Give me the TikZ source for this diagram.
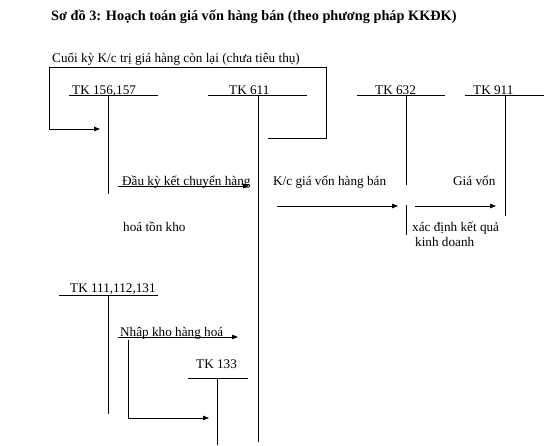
\documentclass[tikz,border=0pt]{standalone}
\usepackage{fontspec}
\setmainfont{Liberation Serif}
\usetikzlibrary{arrows.meta}
\begin{document}
\begin{tikzpicture}[x=1pt,y=-1pt,
  lbl/.style={anchor=base west,inner sep=0pt,font=\fontsize{13.2}{15}\selectfont},
  ttl/.style={anchor=base west,inner sep=0pt,font=\fontsize{14.3}{16}\bfseries\selectfont},
  acc/.style={line width=0.75pt},
  arr/.style={line width=0.75pt,-{Triangle[length=6pt,width=4.5pt]}}]
\useasboundingbox[fill=white] (0,0) rectangle (559,445);
% title
\node[ttl] (title) at (51,20) {Sơ đồ 3: Hoạch toán giá vốn hàng bán (theo phương pháp KKĐK)};
% labels
\node[lbl] (cuoi) at (52,62) {Cuối kỳ K/c trị giá hàng còn lại (chưa tiêu thụ)};
\node[lbl] (t156) at (72,94) {TK 156,157};
\node[lbl] (t611) at (229,94) {TK 611};
\node[lbl] (t632) at (375,94) {TK 632};
\node[lbl] (t911) at (473,94) {TK 911};
\node[lbl] (dauky) at (122,185) {Đầu kỳ kết chuyển hàng};
\node[lbl] (hoa) at (123,231) {hoá tồn kho};
\node[lbl] (kc) at (273,185) {K/c giá vốn hàng bán};
\node[lbl] (giavon) at (453,185) {Giá vốn};
\node[lbl] (xd) at (412,231) {xác định kết quả};
\node[lbl] (kd) at (415,246) {kinh doanh};
\node[lbl] (t111) at (70,292) {TK 111,112,131};
\node[lbl] (nhap) at (120,336) {Nhập kho hàng hoá};
\node[lbl] (t133) at (196,368) {TK 133};
% T-account coordinates
\coordinate (a156l) at (69,95);  \coordinate (a156r) at (158,95);
\coordinate (a156t) at (108,95); \coordinate (a156b) at (108,194);
\coordinate (a611l) at (208,95); \coordinate (a611r) at (307,95);
\coordinate (a611t) at (258,95); \coordinate (a611b) at (258,442);
\coordinate (a632l) at (357,95); \coordinate (a632r) at (445,95);
\coordinate (a632t) at (406,95); \coordinate (a632b) at (406,185);
\coordinate (a632c) at (406,205); \coordinate (a632d) at (406,235);
\coordinate (a911l) at (465,95); \coordinate (a911r) at (544,95);
\coordinate (a911t) at (505,95); \coordinate (a911b) at (505,216);
\coordinate (a111l) at (59,295); \coordinate (a111r) at (158,295);
\coordinate (a111t) at (108,295); \coordinate (a111b) at (108,414);
\coordinate (a133l) at (188,378); \coordinate (a133r) at (248,378);
\coordinate (a133t) at (217,378); \coordinate (a133b) at (217,445);
\draw[acc] (a156l) -- (a156r) (a156t) -- (a156b);
\draw[acc] (a611l) -- (a611r) (a611t) -- (a611b);
\draw[acc] (a632l) -- (a632r) (a632t) -- (a632b) (a632c) -- (a632d);
\draw[acc] (a911l) -- (a911r) (a911t) -- (a911b);
\draw[acc] (a111l) -- (a111r) (a111t) -- (a111b);
\draw[acc] (a133l) -- (a133r) (a133t) -- (a133b);
% bracket: end of period transfer
\coordinate (b1) at (268,138); \coordinate (b2) at (326,138);
\coordinate (b3) at (326,67);  \coordinate (b4) at (49,67);
\coordinate (b5) at (49,129);  \coordinate (b6) at (100,129);
\draw[acc] (b1) -- (b2) -- (b3) -- (b4) -- (b5);
\draw[arr] (b5) -- (b6);
% arrows
\coordinate (d1) at (118,186); \coordinate (d2) at (249,186);
\draw[arr] (d1) -- (d2);
\coordinate (k1) at (277,206); \coordinate (k2) at (398,206);
\draw[arr] (k1) -- (k2);
\coordinate (g1) at (415,206); \coordinate (g2) at (496,206);
\draw[arr] (g1) -- (g2);
\coordinate (n1) at (118,337); \coordinate (n2) at (238,337);
\draw[arr] (n1) -- (n2);
\coordinate (v1) at (128,340); \coordinate (v2) at (128,418); \coordinate (v3) at (209,418);
\draw[acc] (v1) -- (v2);
\draw[arr] (v2) -- (v3);
\end{tikzpicture}
\end{document}
